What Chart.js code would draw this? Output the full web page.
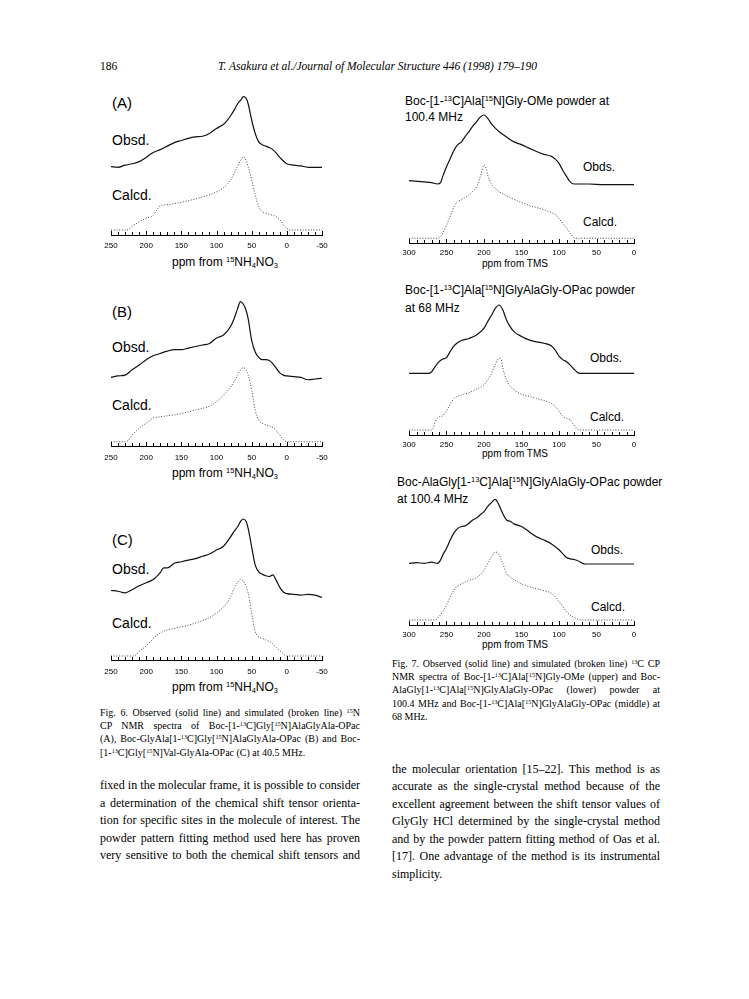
<!DOCTYPE html>
<html><head><meta charset="utf-8">
<script src="https://cdn.jsdelivr.net/npm/chart.js@4"></script>
<style>
html,body{margin:0;padding:0;background:#fff;}
body{width:749px;height:999px;position:relative;overflow:hidden;}
.t{position:absolute;white-space:nowrap;color:#000;line-height:1;}
.sans{font-family:"Liberation Sans",Arial,sans-serif;}
.serif{font-family:"Liberation Serif","Times New Roman",serif;}
.it{font-style:italic;}
sup{font-size:0.62em;vertical-align:0.5em;line-height:0;}
sub{font-size:0.62em;vertical-align:-0.25em;line-height:0;}
.jl{position:absolute;white-space:nowrap;text-align:justify;text-align-last:justify;font-family:"Liberation Serif","Times New Roman",serif;color:#000;line-height:1;}
.ll{text-align-last:left;}
.cap{font-size:10px;}
.body{font-size:12px;}
.lab{font-size:14px;}
.pl{font-size:15px;}
.rl{font-size:12px;}
.ax{font-size:12px;}
.axr{font-size:10px;text-align:center;width:100px;}
canvas{position:absolute;}
</style></head><body>

<div class="t serif" style="left:100px;top:60.7px;font-size:11.5px;">186</div>
<div class="t serif it" style="left:218px;top:60.7px;font-size:11.5px;">T. Asakura et al./Journal of Molecular Structure 446 (1998) 179–190</div>

<!-- Left panels labels -->
<div class="t sans pl" style="left:112px;top:94.5px;">(A)</div>
<div class="t sans lab" style="left:112px;top:133px;">Obsd.</div>
<div class="t sans lab" style="left:112px;top:188px;">Calcd.</div>
<div class="t sans ax" style="left:172px;top:256px;">ppm from <sup>15</sup>NH<sub>4</sub>NO<sub>3</sub></div>

<div class="t sans pl" style="left:112px;top:303.5px;">(B)</div>
<div class="t sans lab" style="left:112px;top:340px;">Obsd.</div>
<div class="t sans lab" style="left:112px;top:398px;">Calcd.</div>
<div class="t sans ax" style="left:172px;top:467px;">ppm from <sup>15</sup>NH<sub>4</sub>NO<sub>3</sub></div>

<div class="t sans pl" style="left:112px;top:531.5px;">(C)</div>
<div class="t sans lab" style="left:112px;top:562px;">Obsd.</div>
<div class="t sans lab" style="left:112px;top:616px;">Calcd.</div>
<div class="t sans ax" style="left:172px;top:681px;">ppm from <sup>15</sup>NH<sub>4</sub>NO<sub>3</sub></div>

<!-- Right panels labels -->
<div class="t sans rl" style="left:405px;top:95px;">Boc-[1-<sup>13</sup>C]Ala[<sup>15</sup>N]Gly-OMe powder at</div>
<div class="t sans rl" style="left:405px;top:111px;">100.4 MHz</div>
<div class="t sans rl" style="left:583px;top:161px;">Obds.</div>
<div class="t sans rl" style="left:583px;top:216px;">Calcd.</div>
<div class="t sans axr" style="left:465px;top:259px;">ppm from TMS</div>

<div class="t sans rl" style="left:405px;top:284px;">Boc-[1-<sup>13</sup>C]Ala[<sup>15</sup>N]GlyAlaGly-OPac powder</div>
<div class="t sans rl" style="left:405px;top:302px;">at 68 MHz</div>
<div class="t sans rl" style="left:590px;top:352px;">Obds.</div>
<div class="t sans rl" style="left:590px;top:411px;">Calcd.</div>
<div class="t sans axr" style="left:465px;top:449px;">ppm from TMS</div>

<div class="t sans rl" style="left:397px;top:476px;">Boc-AlaGly[1-<sup>13</sup>C]Ala[<sup>15</sup>N]GlyAlaGly-OPac powder</div>
<div class="t sans rl" style="left:397px;top:493px;">at 100.4 MHz</div>
<div class="t sans rl" style="left:591px;top:544px;">Obds.</div>
<div class="t sans rl" style="left:591px;top:601px;">Calcd.</div>
<div class="t sans axr" style="left:465px;top:640px;">ppm from TMS</div>

<!-- Fig. 6 caption -->
<div class="jl cap" style="left:100px;top:707.5px;width:260px;">Fig. 6. Observed (solid line) and simulated (broken line) <sup>15</sup>N</div>
<div class="jl cap" style="left:100px;top:720.5px;width:260px;">CP NMR spectra of Boc-[1-<sup>13</sup>C]Gly[<sup>15</sup>N]AlaGlyAla-OPac</div>
<div class="jl cap" style="left:100px;top:734px;width:260px;">(A), Boc-GlyAla[1-<sup>13</sup>C]Gly[<sup>15</sup>N]AlaGlyAla-OPac (B) and Boc-</div>
<div class="jl cap ll" style="left:100px;top:748px;width:260px;">[1-<sup>13</sup>C]Gly[<sup>15</sup>N]Val-GlyAla-OPac (C) at 40.5 MHz.</div>

<!-- Fig. 7 caption -->
<div class="jl cap" style="left:392px;top:658.5px;width:268px;">Fig. 7. Observed (solid line) and simulated (broken line) <sup>13</sup>C CP</div>
<div class="jl cap" style="left:392px;top:671.5px;width:268px;">NMR spectra of Boc-[1-<sup>13</sup>C]Ala[<sup>15</sup>N]Gly-OMe (upper) and Boc-</div>
<div class="jl cap" style="left:392px;top:684.5px;width:268px;">AlaGly[1-<sup>13</sup>C]Ala[<sup>15</sup>N]GlyAlaGly-OPac (lower) powder at</div>
<div class="jl cap" style="left:392px;top:698.5px;width:268px;">100.4 MHz and Boc-[1-<sup>13</sup>C]Ala[<sup>15</sup>N]GlyAlaGly-OPac (middle) at</div>
<div class="jl cap ll" style="left:392px;top:711.5px;width:268px;">68 MHz.</div>

<!-- Body text left -->
<div class="jl body" style="left:100px;top:779.4px;width:260px;">fixed in the molecular frame, it is possible to consider</div>
<div class="jl body" style="left:100px;top:797.4px;width:260px;">a determination of the chemical shift tensor orienta-</div>
<div class="jl body" style="left:100px;top:814.4px;width:260px;">tion for specific sites in the molecule of interest. The</div>
<div class="jl body" style="left:100px;top:832.4px;width:260px;">powder pattern fitting method used here has proven</div>
<div class="jl body" style="left:100px;top:849.4px;width:260px;">very sensitive to both the chemical shift tensors and</div>

<!-- Body text right -->
<div class="jl body" style="left:392px;top:763.4px;width:268px;">the molecular orientation [15–22]. This method is as</div>
<div class="jl body" style="left:392px;top:780.4px;width:268px;">accurate as the single-crystal method because of the</div>
<div class="jl body" style="left:392px;top:798.4px;width:268px;">excellent agreement between the shift tensor values of</div>
<div class="jl body" style="left:392px;top:815.4px;width:268px;">GlyGly HCl determined by the single-crystal method</div>
<div class="jl body" style="left:392px;top:833.4px;width:268px;">and by the powder pattern fitting method of Oas et al.</div>
<div class="jl body" style="left:392px;top:850.4px;width:268px;">[17]. One advantage of the method is its instrumental</div>
<div class="jl body ll" style="left:392px;top:868.4px;width:268px;">simplicity.</div>

<script>
// ---------- tick labels ----------
const leftTickLabels = [250, 200, 150, 100, 50, 0, -50];
const rightTickLabels = [300, 250, 200, 150, 100, 50, 0];

// ---------- Fig. 6 (A) ----------
const aObsPpm = [250,240,230,220,210,200,190,180,170,160,150,140,130,120,110,100,90,85,80,75,70,65,62,58,55,50,45,40,35,30,25,20,15,10,5,0,-10,-20,-30,-40,-50];
const aObsInt = [1,0,3,5,8,14,21,25,30,35,38,41,43,44,48,55,61,66,73,81,90,96,100,98,90,67,48,36,32,30,28,25,20,14,9,5,3,2,0,0,0];
const aCalcPpm = [250,230,225,220,210,200,190,185,180,175,160,140,120,100,90,80,75,70,65,62,58,55,50,45,40,35,30,20,15,10,5,0,-5,-50];
const aCalcInt = [0,0,1,5,11,16,20,27,33,34,36,40,45,52,58,68,77,87,96,100,95,86,68,48,32,25,23,20,18,14,7,2,0,0];

// ---------- Fig. 6 (B) ----------
const bObsPpm = [250,240,230,220,210,200,190,180,170,160,150,140,130,120,110,100,90,80,75,70,66,62,58,55,50,45,40,35,30,25,20,15,10,5,0,-10,-20,-30,-40,-50];
const bObsInt = [2,4,5,12,18,25,30,33,36,38,38,40,42,44,46,53,57,68,78,91,100,97,89,78,50,35,28,25,25,24,20,14,8,5,4,3,2,-1,0,1];
const bCalcPpm = [250,230,225,220,210,200,190,185,170,150,130,110,100,90,80,75,70,65,62,58,55,50,45,40,35,30,20,15,10,5,0,-50];
const bCalcInt = [0,0,2,9,18,25,32,33,35,38,43,48,54,63,74,81,90,98,100,97,90,70,43,29,25,23,19,15,9,3,0,0];

// ---------- Fig. 6 (C) ----------
const cObsPpm = [250,240,230,220,210,200,190,180,175,170,160,150,140,130,120,110,100,90,80,75,70,65,62,58,55,50,45,40,35,30,25,20,15,10,5,0,-10,-20,-30,-40,-50];
const cObsInt = [8,7,5,9,14,18,22,31,37,37,43,45,47,49,52,55,60,65,77,84,90,98,100,97,88,64,41,32,29,27,26,28,21,12,6,4,3,2,3,2,-1];
const cCalcPpm = [250,220,215,210,200,190,180,170,160,150,140,130,120,110,100,90,80,75,70,66,62,58,55,50,45,40,35,30,25,20,15,10,5,0,-50];
const cCalcInt = [0,0,1,6,13,23,30,34,36,38,40,43,46,50,56,64,77,88,96,100,98,91,82,56,32,25,23,21,19,16,11,7,3,0,0];

// ---------- Fig. 7 upper ----------
const r1ObsPpm = [300,280,270,262,258,255,250,245,240,235,230,225,220,215,210,205,200,195,190,185,180,170,160,150,140,130,120,110,105,100,95,90,85,80,60,40,20,0];
const r1ObsInt = [5,3,2,0,2,11,25,37,49,57,61,69,76,84,90,97,100,95,87,81,76,68,61,57,52,47,43,40,36,30,20,11,3,0,0,-1,-1,-1];
const r1CalcPpm = [300,262,258,255,250,245,240,235,230,220,215,210,205,200,197,195,190,180,170,160,150,140,130,120,110,105,100,95,90,85,80,78,0];
const r1CalcInt = [0,0,2,7,18,30,43,50,53,59,64,70,84,100,95,86,74,64,58,53,49,45,42,39,35,33,27,20,14,7,1,0,0];

// ---------- Fig. 7 middle ----------
const r2ObsPpm = [300,275,270,265,260,255,250,245,240,235,230,220,210,200,195,190,185,180,175,170,165,160,150,140,130,120,110,105,100,95,90,85,80,75,72,0];
const r2ObsInt = [0,0,2,10,17,21,23,32,40,45,48,51,56,66,76,85,95,100,93,78,68,61,54,49,46,44,40,34,25,20,17,12,6,1,0,0];
const r2CalcPpm = [300,270,268,265,260,255,250,245,240,230,220,210,200,195,190,185,180,177,175,170,165,160,150,140,130,120,110,105,100,95,90,85,80,75,72,0];
const r2CalcInt = [0,0,2,12,18,20,27,36,44,49,52,57,63,70,79,91,100,98,87,70,61,56,50,47,44,41,37,33,26,19,16,14,7,1,0,0];

// ---------- Fig. 7 lower ----------
const r3ObsPpm = [300,290,280,270,262,258,255,250,245,240,235,230,225,220,215,210,205,200,195,190,185,180,175,170,165,160,150,140,130,120,110,100,95,90,85,80,75,70,65,0];
const r3ObsInt = [1,2,1,3,1,6,14,24,37,48,55,58,59,63,68,71,76,81,89,95,100,91,78,68,66,62,58,50,42,37,31,22,16,10,8,7,5,2,0,0];
const r3CalcPpm = [300,265,260,255,250,245,240,235,230,220,210,200,195,190,185,180,175,170,165,160,150,140,130,120,110,105,100,95,90,85,80,75,72,0];
const r3CalcInt = [0,0,5,12,22,34,44,50,53,58,62,73,83,92,100,95,83,68,63,59,53,49,46,43,39,34,27,20,12,7,4,1,0,0];

// ---------- layout (page pixels) ----------
const XH = 30;
const panels = [
  {left:95, top:90, width:240, areaL:111, areaR:322, axisY:235, xmin:-50, xmax:250, labels:leftTickLabels, pad:6,
   obs:[aObsPpm,aObsInt], calc:[aCalcPpm,aCalcInt], obsY:[167.3,96.7], calcY:[230,156.7]},
  {left:95, top:295, width:240, areaL:111, areaR:322, axisY:446, xmin:-50, xmax:250, labels:leftTickLabels, pad:7,
   obs:[bObsPpm,bObsInt], calc:[bCalcPpm,bCalcInt], obsY:[379,301.7], calcY:[441.7,367.7]},
  {left:95, top:512, width:240, areaL:111, areaR:322, axisY:660, xmin:-50, xmax:250, labels:leftTickLabels, pad:7,
   obs:[cObsPpm,cObsInt], calc:[cCalcPpm,cCalcInt], obsY:[596.7,519], calcY:[656,579.3]},
  {left:393, top:108, width:255, areaL:409, areaR:634, axisY:243, xmin:0, xmax:300, labels:rightTickLabels, pad:5,
   obs:[r1ObsPpm,r1ObsInt], calc:[r1CalcPpm,r1CalcInt], obsY:[184,115], calcY:[238.3,165]},
  {left:393, top:298, width:255, areaL:409, areaR:634, axisY:435, xmin:0, xmax:300, labels:rightTickLabels, pad:5,
   obs:[r2ObsPpm,r2ObsInt], calc:[r2CalcPpm,r2CalcInt], obsY:[373.3,305], calcY:[430,358.3]},
  {left:393, top:492, width:255, areaL:409, areaR:634, axisY:625, xmin:0, xmax:300, labels:rightTickLabels, pad:5,
   obs:[r3ObsPpm,r3ObsInt], calc:[r3CalcPpm,r3CalcInt], obsY:[564,499.3], calcY:[620,551.7]}
];

const upTicks = {
  id: 'upTicks',
  afterDraw(chart) {
    const s = chart.scales.x, ctx = chart.ctx, y = chart.chartArea.bottom;
    ctx.save();
    ctx.strokeStyle = '#000';
    ctx.lineWidth = 1;
    ctx.beginPath();
    s.ticks.forEach(t => {
      const x = Math.round(s.getPixelForValue(t.value)) + 0.5;
      const len = (t.value % 50 === 0) ? 4 : 3;
      ctx.moveTo(x, y);
      ctx.lineTo(x, y - len);
    });
    ctx.stroke();
    ctx.restore();
  }
};

function toPoints(pair) { return pair[0].map((x, i) => ({x: x, y: pair[1][i]})); }

panels.forEach(p => {
  const cv = document.createElement('canvas');
  const h = p.axisY - p.top + XH;
  cv.width = p.width; cv.height = h;
  cv.style.left = p.left + 'px'; cv.style.top = p.top + 'px';
  cv.style.width = p.width + 'px'; cv.style.height = h + 'px';
  document.body.appendChild(cv);
  const H = p.axisY - p.top;
  const yRange = (base, peak) => {
    const f0 = (p.axisY - base) / H, f1 = (p.axisY - peak) / H;
    const R = 100 / (f1 - f0), m = -f0 * R;
    return {display: false, min: m, max: m + R};
  };
  new Chart(cv, {
    type: 'line',
    data: {
      datasets: [
        {label: 'Obsd.', data: toPoints(p.obs), yAxisID: 'yObs', borderColor: '#111', borderWidth: 1.2,
         pointRadius: 0, cubicInterpolationMode: 'monotone', fill: false, clip: false},
        {label: 'Calcd.', data: toPoints(p.calc), yAxisID: 'yCalc', borderColor: '#444', borderWidth: 1.0,
         borderDash: [1, 1.7], pointRadius: 0, cubicInterpolationMode: 'monotone', fill: false, clip: false}
      ]
    },
    options: {
      responsive: false, maintainAspectRatio: false, animation: false, devicePixelRatio: 1,
      layout: {padding: {left: p.areaL - p.left, right: p.left + p.width - p.areaR, top: 0, bottom: 0}},
      plugins: {legend: {display: false}, tooltip: {enabled: false}, title: {display: false}},
      scales: {
        x: {
          type: 'linear', min: p.xmin, max: p.xmax, reverse: true,
          afterFit: s => { s.height = XH; },
          grid: {display: true, drawOnChartArea: false, drawTicks: false},
          border: {display: true, color: '#000', width: 1},
          ticks: {
            stepSize: 10, autoSkip: false, maxRotation: 0, padding: p.pad, color: '#000',
            font: {family: '"Liberation Sans", Arial, sans-serif', size: 8},
            callback: v => p.labels.includes(v) ? String(v) : ''
          }
        },
        yObs: yRange(p.obsY[0], p.obsY[1]),
        yCalc: yRange(p.calcY[0], p.calcY[1])
      }
    },
    plugins: [upTicks]
  });
});
</script>
</body></html>
